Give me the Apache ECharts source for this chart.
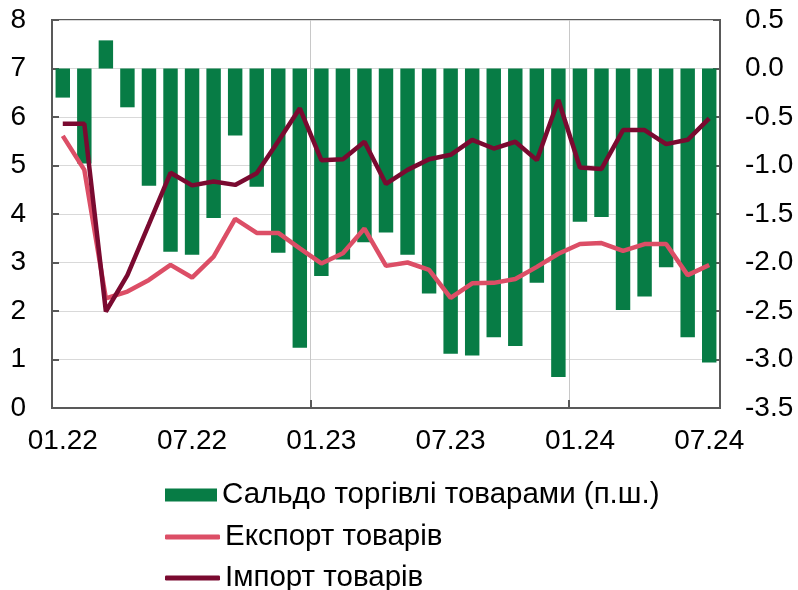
<!DOCTYPE html>
<html>
<head>
<meta charset="utf-8">
<script src="https://cdn.jsdelivr.net/npm/echarts@6/dist/echarts.min.js"></script>
<style>
  html, body { margin: 0; padding: 0; background: #fff; }
  #chart { width: 798px; height: 590px; }
</style>
</head>
<body>
<div id="chart"></div>
<script>
// Months, Jan 2022 – Jul 2024
const months = [
  '01.22','02.22','03.22','04.22','05.22','06.22','07.22','08.22','09.22','10.22','11.22','12.22',
  '01.23','02.23','03.23','04.23','05.23','06.23','07.23','08.23','09.23','10.23','11.23','12.23',
  '01.24','02.24','03.24','04.24','05.24','06.24','07.24'
];

// Trade balance in goods (right axis)
const balance = [
  -0.30, -0.98, 0.29, -0.40, -1.21, -1.89, -1.92, -1.54, -0.69, -1.22, -1.90, -2.88,
  -2.14, -1.97, -1.79, -1.69, -1.92, -2.32, -2.94, -2.96, -2.77, -2.86, -2.21, -3.18,
  -1.58, -1.53, -2.49, -2.35, -2.05, -2.77, -3.03
];

// Exports of goods (left axis)
const exportsGoods = [
  5.61, 4.91, 2.26, 2.40, 2.64, 2.95, 2.69, 3.12, 3.90, 3.61, 3.61, 3.29,
  2.98, 3.19, 3.70, 2.93, 3.00, 2.85, 2.27, 2.57, 2.58, 2.66, 2.91, 3.18,
  3.38, 3.40, 3.24, 3.38, 3.38, 2.74, 2.95
];

// Imports of goods (left axis)
const importsGoods = [
  5.86, 5.86, 1.99, 2.74, 3.79, 4.85, 4.59, 4.67, 4.60, 4.84, 5.50, 6.18,
  5.11, 5.13, 5.49, 4.62, 4.91, 5.13, 5.22, 5.53, 5.35, 5.49, 5.11, 6.35,
  4.96, 4.93, 5.73, 5.73, 5.44, 5.53, 5.97
];

const seriesNames = ['Сальдо торгівлі товарами (п.ш.)', 'Експорт товарів', 'Імпорт товарів'];

const FONT = 'Liberation Sans, Arial, sans-serif';
const AXIS_COLOR = '#595959';
const GREEN = '#077c45';
const PINK = '#dc4e66';
const MAROON = '#7a0a30';

const legendText = { fontFamily: FONT, fontSize: 29.5, color: '#000', lineHeight: 30 };

// One legend block per row so each key gets its own swatch shape
function legendRow(name, top, icon, w, h) {
  return {
    left: 165, top: top, padding: 0,
    itemWidth: w, itemHeight: h, itemGap: 0,
    icon: icon,
    data: [name],
    textStyle: Object.assign({ padding: [0, 0, 0, 0] }, legendText)
  };
}

const chart = echarts.init(document.getElementById('chart'), null, { renderer: 'canvas' });

chart.setOption({
  animation: false,
  backgroundColor: '#ffffff',
  textStyle: { fontFamily: FONT },
  grid: {
    left: 52, right: 78, top: 20, bottom: 182,
    show: true, borderColor: AXIS_COLOR, borderWidth: 2
  },
  legend: [
    legendRow(seriesNames[0], 480, 'rect', 52, 13),
    legendRow(seriesNames[1], 522, 'roundRect', 55, 5),
    legendRow(seriesNames[2], 563, 'roundRect', 55, 5)
  ],
  xAxis: {
    type: 'category',
    data: months,
    boundaryGap: true,
    axisLine: { lineStyle: { color: AXIS_COLOR, width: 2 } },
    axisTick: { show: true, inside: true, interval: 11, length: 8, lineStyle: { color: AXIS_COLOR, width: 2 } },
    axisLabel: { interval: 5, color: '#000', fontSize: 28, fontFamily: FONT, margin: 19 },
    splitLine: { show: true, interval: 11, lineStyle: { color: '#c8c8c8', width: 1 } }
  },
  yAxis: [
    {
      type: 'value', min: 0, max: 8, interval: 1,
      axisLine: { show: true, lineStyle: { color: AXIS_COLOR, width: 2 } },
      axisTick: { show: true, inside: true, length: 7, lineStyle: { color: AXIS_COLOR, width: 2 } },
      axisLabel: { color: '#000', fontSize: 28, fontFamily: FONT, margin: 26 },
      splitLine: { show: true, lineStyle: { color: '#d9d9d9', width: 1 } }
    },
    {
      type: 'value', min: -3.5, max: 0.5, interval: 0.5, position: 'right',
      axisLine: { show: true, lineStyle: { color: AXIS_COLOR, width: 2 } },
      axisTick: { show: true, inside: true, length: 7, lineStyle: { color: AXIS_COLOR, width: 2 } },
      axisLabel: { color: '#000', fontSize: 28, fontFamily: FONT, margin: 25,
                   formatter: v => v.toFixed(1) },
      splitLine: { show: false }
    }
  ],
  series: [
    {
      name: seriesNames[0],
      type: 'bar',
      yAxisIndex: 1,
      data: balance,
      barWidth: '67%',
      itemStyle: { color: GREEN },
      z: 2
    },
    {
      name: seriesNames[1],
      type: 'line',
      yAxisIndex: 0,
      data: exportsGoods,
      symbol: 'none',
      lineStyle: { color: PINK, width: 4.5 },
      itemStyle: { color: PINK },
      z: 3
    },
    {
      name: seriesNames[2],
      type: 'line',
      yAxisIndex: 0,
      data: importsGoods,
      symbol: 'none',
      lineStyle: { color: MAROON, width: 4.5 },
      itemStyle: { color: MAROON },
      z: 4
    }
  ]
});
</script>
</body>
</html>
